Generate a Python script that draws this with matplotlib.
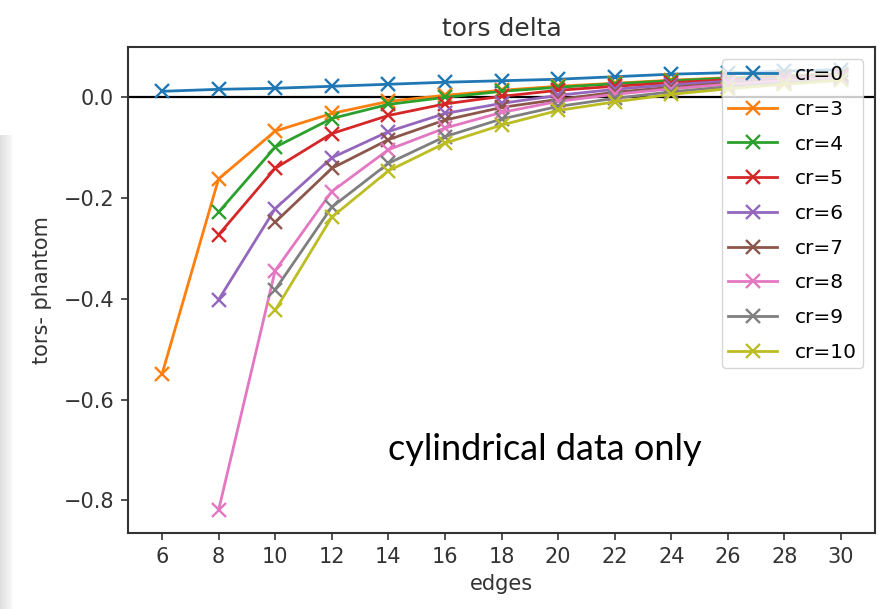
import numpy as np
import matplotlib
matplotlib.use("Agg")
import matplotlib.pyplot as plt

# edges on the x axis
edges_all = [6, 8, 10, 12, 14, 16, 18, 20, 22, 24, 26, 28, 30]
edges_from8 = edges_all[1:]
edges_from10 = edges_all[2:]

# tors - phantom, one list per cr value
cr0 = [0.012, 0.016, 0.018, 0.022, 0.026, 0.030, 0.033, 0.036, 0.041, 0.046, 0.049, 0.052, 0.055]
cr3 = [-0.55, -0.162, -0.067, -0.032, -0.008, 0.004, 0.014, 0.022, 0.028, 0.034, 0.039, 0.043, 0.047]
cr4 = [-0.228, -0.099, -0.042, -0.014, 0.0, 0.012, 0.020, 0.027, 0.033, 0.038, 0.042, 0.046]
cr5 = [-0.273, -0.141, -0.072, -0.036, -0.013, 0.002, 0.014, 0.022, 0.029, 0.035, 0.040, 0.044]
cr6 = [-0.402, -0.221, -0.120, -0.068, -0.032, -0.012, 0.004, 0.016, 0.025, 0.032, 0.038, 0.042]
cr7 = [-0.248, -0.141, -0.084, -0.045, -0.020, -0.004, 0.010, 0.020, 0.028, 0.035, 0.040]
cr8 = [-0.82, -0.344, -0.187, -0.104, -0.061, -0.030, -0.008, 0.006, 0.017, 0.026, 0.033, 0.039]
cr9 = [-0.382, -0.218, -0.131, -0.078, -0.043, -0.018, -0.002, 0.011, 0.021, 0.029, 0.036]
cr10 = [-0.423, -0.238, -0.146, -0.091, -0.055, -0.026, -0.009, 0.006, 0.017, 0.026, 0.034]

series = [
    ("cr=0", edges_all, cr0),
    ("cr=3", edges_all, cr3),
    ("cr=4", edges_from8, cr4),
    ("cr=5", edges_from8, cr5),
    ("cr=6", edges_from8, cr6),
    ("cr=7", edges_from10, cr7),
    ("cr=8", edges_from8, cr8),
    ("cr=9", edges_from10, cr9),
    ("cr=10", edges_from10, cr10),
]

fig = plt.figure(figsize=(8.88, 6.09), dpi=100)
ax = fig.add_axes([128 / 888, 76 / 609, 747 / 888, 486 / 609])

# grey slide edge on the left
strip = fig.add_axes([0, 0, 11 / 888, 474 / 609])
strip.imshow(np.linspace(0.87, 0.97, 50).reshape(1, -1), cmap="gray", vmin=0, vmax=1,
             aspect="auto", extent=[0, 1, 0, 1])
strip.axis("off")

ax.axhline(0, color="black", linewidth=1.6, zorder=1)
for label, x, y in series:
    ax.plot(x, y, marker="x", markersize=10, markeredgewidth=1.7, linewidth=2, label=label)

ax.set_xlim(4.8, 31.2)
ax.set_ylim(-0.865, 0.10)
ax.set_xticks(edges_all)
ax.set_yticks([0.0, -0.2, -0.4, -0.6, -0.8])
ax.tick_params(labelsize=15, length=5, width=1.2, colors="#333333", pad=5)
for s in ax.spines.values():
    s.set_linewidth(1.5)
    s.set_color("#333333")

ax.set_title("tors delta", fontsize=18, color="#333333", pad=8)
ax.set_xlabel("edges", fontsize=15, color="#333333", labelpad=5)
ax.set_ylabel("tors- phantom", fontsize=15, color="#333333", labelpad=8)

ax.legend(loc="upper right", fontsize=14.5, handlelength=2.4, labelspacing=0.78,
          handletextpad=0.9, framealpha=0.8, borderaxespad=0.6, borderpad=0.3)

ax.text(0.348, 0.15, "cylindrical data only", transform=ax.transAxes,
        fontsize=26, family="Lato", ha="left", va="baseline", color="black")

fig.savefig("out.png", dpi=100)
